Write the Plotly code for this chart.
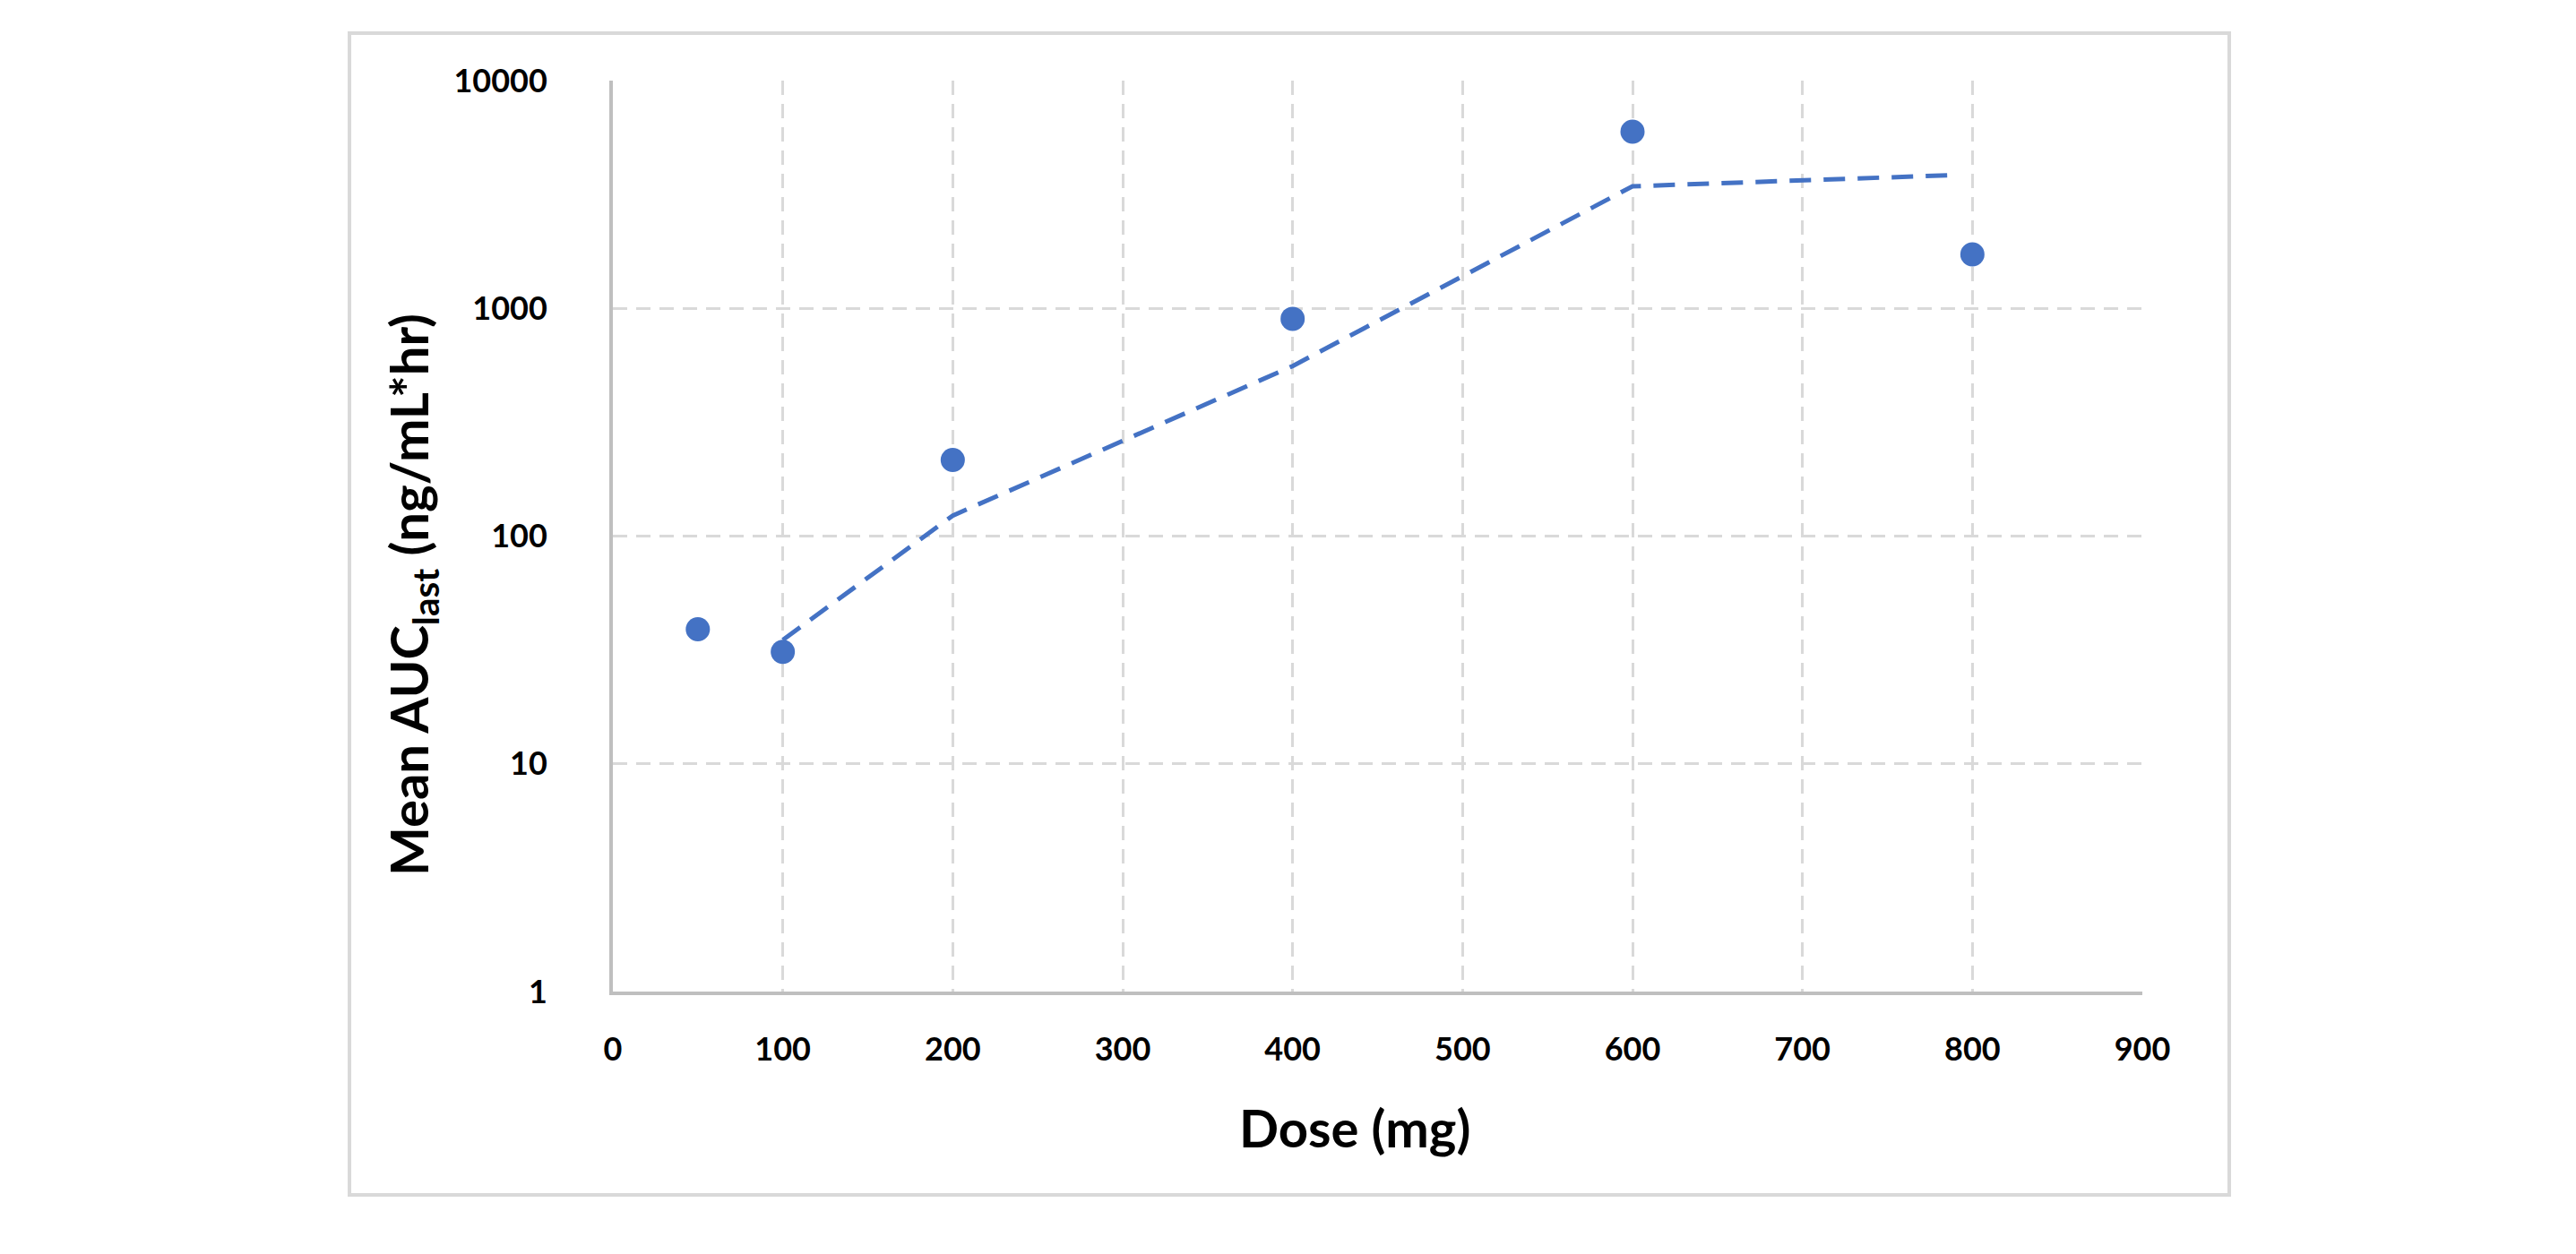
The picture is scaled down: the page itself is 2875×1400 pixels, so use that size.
import plotly.graph_objects as go

# Data
dose_mg = [50, 100, 200, 400, 600, 800]
mean_auc_last = [39, 31, 216, 900, 5970, 1725]

# 2-period moving-average trend line (dashed)
trend_dose = [100, 200, 400, 600, 790]
trend_auc = [35, 123, 558, 3435, 3850]

x_ticks = [0, 100, 200, 300, 400, 500, 600, 700, 800, 900]
y_ticks = [1, 10, 100, 1000, 10000]
y_ticktext = ["1", "10", "100", "1000", "10000"]

BLUE = "#4472C4"
GRID = "#d9d9d9"
AXIS = "#bfbfbf"
FONT = "Lato"

fig = go.Figure()

fig.add_trace(go.Scatter(
    x=trend_dose, y=trend_auc, mode="lines",
    line=dict(color=BLUE, width=5, dash="24px,14px"),
    showlegend=False, hoverinfo="skip",
))
fig.add_trace(go.Scatter(
    x=dose_mg, y=mean_auc_last, mode="markers",
    marker=dict(color=BLUE, size=27, line=dict(width=0)),
    showlegend=False,
))

W, H = 2875, 1400
L, R, T, B = 684, 2875 - 2391, 90, 1400 - 1107
pw, ph = W - L - R, H - T - B


def px(x):
    return (x - L) / pw


def py(y):
    return (H - B - y) / ph


fig.update_layout(
    width=W, height=H,
    margin=dict(l=L, r=R, t=T, b=B, pad=0),
    paper_bgcolor="white", plot_bgcolor="white",
    font=dict(family=FONT, color="black", size=36, weight="bold"),
    xaxis=dict(
        range=[0, 900], tickvals=x_ticks,
        showgrid=True, gridcolor=GRID, gridwidth=3, griddash="16px,10px",
        showline=True, linecolor=AXIS, linewidth=4,
        zeroline=False, ticks="", ticklabelstandoff=30,
        tickfont=dict(family=FONT, size=36, color="black", weight="bold"),
    ),
    yaxis=dict(
        type="log", range=[0, 4], tickvals=y_ticks, ticktext=y_ticktext,
        showgrid=True, gridcolor=GRID, gridwidth=3, griddash="16px,10px",
        showline=True, linecolor=AXIS, linewidth=4,
        zeroline=False, ticks="", ticklabelstandoff=62,
        tickfont=dict(family=FONT, size=36, color="black", weight="bold"),
    ),
    shapes=[dict(
        type="rect", xref="paper", yref="paper",
        x0=px(390), x1=px(2488), y0=py(1334), y1=py(37),
        line=dict(color=GRID, width=4), fillcolor="rgba(0,0,0,0)", layer="below",
    )],
    annotations=[
        dict(text="Dose (mg)", xref="paper", yref="paper",
             x=px(1512), y=py(1258), xanchor="center", yanchor="middle",
             showarrow=False, font=dict(family=FONT, size=58, color="black", weight="bold")),
        dict(text="Mean AUC<sub>last</sub> (ng/mL*hr)", xref="paper", yref="paper",
             x=px(460), y=py(664), xanchor="center", yanchor="middle", textangle=-90,
             showarrow=False, font=dict(family=FONT, size=58, color="black", weight="bold")),
    ],
)

fig.write_html(
    "out.html",
    config={"displayModeBar": False},
    post_script="document.body.style.margin='0';document.body.style.overflow='hidden';",
)
